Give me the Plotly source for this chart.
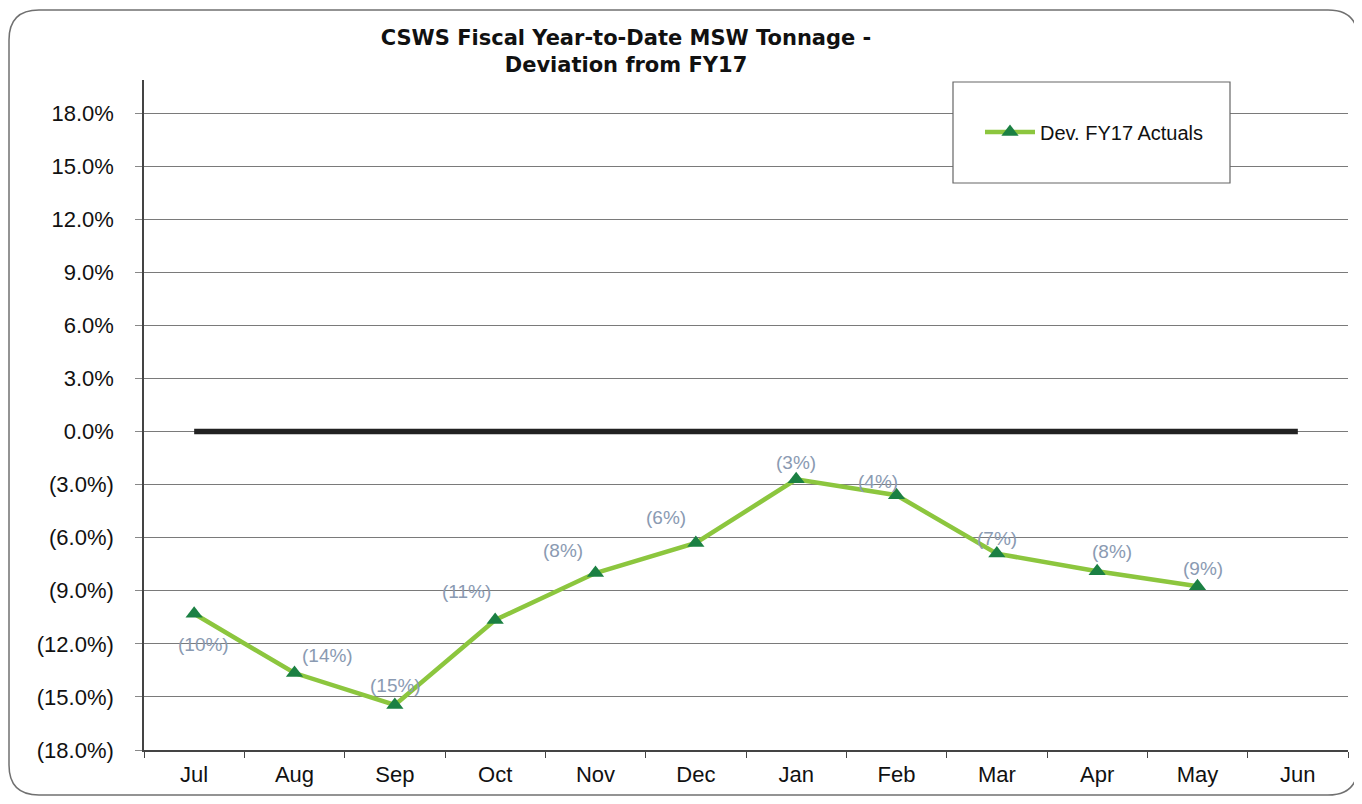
import plotly.graph_objects as go

months = ["Jul", "Aug", "Sep", "Oct", "Nov", "Dec", "Jan", "Feb", "Mar", "Apr", "May", "Jun"]
dev_fy17 = [-10.3, -13.65, -15.45, -10.65, -8.0, -6.3, -2.7, -3.6, -6.9, -7.9, -8.75]
dev_labels = ["(10%)", "(14%)", "(15%)", "(11%)", "(8%)", "(6%)", "(3%)", "(4%)", "(7%)", "(8%)", "(9%)"]
baseline = [0.0] * 12
y_ticks = [-18, -15, -12, -9, -6, -3, 0, 3, 6, 9, 12, 15, 18]
y_tick_text = ["(18.0%)", "(15.0%)", "(12.0%)", "(9.0%)", "(6.0%)", "(3.0%)", "0.0%",
               "3.0%", "6.0%", "9.0%", "12.0%", "15.0%", "18.0%"]
# label offsets (pixels) relative to each point
label_dx = [9, 33, 1, -29, -33, -30, 0, -19, 0, 15, 5]
label_dy = [-31, 18, 19, 28, 23, 26, 17, 14, 15, 20, 18]

# The page has an 8px body margin, so the figure is drawn at (8, 8) on screen.
OFF = 8
W, H = 1354, 796
L, R, T, B = 136, 14, 72, 54
pw, ph = W - L - R, H - T - B


def px(x_screen):
    return (x_screen - OFF - L) / pw


def py(y_screen):
    return 1 - (y_screen - OFF - T) / ph


fig = go.Figure()
fig.add_trace(go.Scatter(
    x=months, y=baseline, mode="lines", showlegend=False,
    line=dict(color="#222222", width=5.5), hoverinfo="skip", cliponaxis=False,
))
fig.add_trace(go.Scatter(
    x=months[:len(dev_fy17)], y=dev_fy17, mode="lines+markers",
    name="Dev. FY17 Actuals",
    line=dict(color="#8cc63e", width=4.5),
    marker=dict(symbol="triangle-up", size=15, color="#1b8043"),
    cliponaxis=False,
))

annotations = []
for m, v, t, dx, dy in zip(months, dev_fy17, dev_labels, label_dx, label_dy):
    annotations.append(dict(
        x=m, y=v, text=t, showarrow=False, xshift=dx, yshift=dy,
        font=dict(family="Liberation Sans", size=19, color="#8a9ab2"),
        xanchor="center", yanchor="middle",
    ))

# Outer rounded frame
x0, x1, y0, y1, r = px(9), px(1358), py(10), py(795), 30
rx, ry = r / pw, r / ph
path = (f"M {x0+rx},{y0} L {x1-rx},{y0} Q {x1},{y0} {x1},{y0-ry} "
        f"L {x1},{y1+ry} Q {x1},{y1} {x1-rx},{y1} L {x0+rx},{y1} "
        f"Q {x0},{y1} {x0},{y1+ry} L {x0},{y0-ry} Q {x0},{y0} {x0+rx},{y0} Z")

shapes = [
    dict(type="path", xref="paper", yref="paper", path=path,
         line=dict(color="#707070", width=1.5), fillcolor="rgba(0,0,0,0)", layer="below"),
    dict(type="rect", xref="paper", yref="paper", x0=px(953), x1=px(1230), y0=py(82), y1=py(183),
         line=dict(color="#666666", width=1.2), fillcolor="white", layer="above"),
]

fig.update_layout(
    width=W, height=H,
    margin=dict(l=L, r=R, t=T, b=B),
    paper_bgcolor="white", plot_bgcolor="white",
    font=dict(family="Liberation Sans", color="#111111"),
    title=dict(text="<b>CSWS Fiscal Year-to-Date MSW Tonnage -<br>Deviation from FY17</b>",
               x=px(626), xanchor="center", xref="paper", y=1 - 37 / H, yanchor="top",
               font=dict(family="DejaVu Sans", size=21, color="#111111")),
    shapes=shapes,
    annotations=annotations,
    legend=dict(x=px(980), y=py(132), xanchor="left", yanchor="middle",
                bgcolor="rgba(0,0,0,0)", font=dict(size=20, color="#111111"),
                itemwidth=50),
    xaxis=dict(
        categoryorder="array", categoryarray=months, range=[-0.5, 11.5],
        showline=True, linecolor="#444444", linewidth=1.5,
        ticks="outside", tickson="boundaries", ticklen=6, tickcolor="#444444",
        showgrid=False, tickfont=dict(size=22, color="#111111"),
        ticklabelstandoff=4,
    ),
    yaxis=dict(
        range=[-18, 19.87], tickvals=y_ticks, ticktext=y_tick_text,
        showline=True, linecolor="#444444", linewidth=1.5,
        ticks="outside", ticklen=7, tickcolor="#888888",
        showgrid=True, gridcolor="#7a7a7a", gridwidth=1, zeroline=False,
        tickfont=dict(size=22, color="#111111"),
        ticklabelstandoff=17,
    ),
)

fig.write_html("out.html")
